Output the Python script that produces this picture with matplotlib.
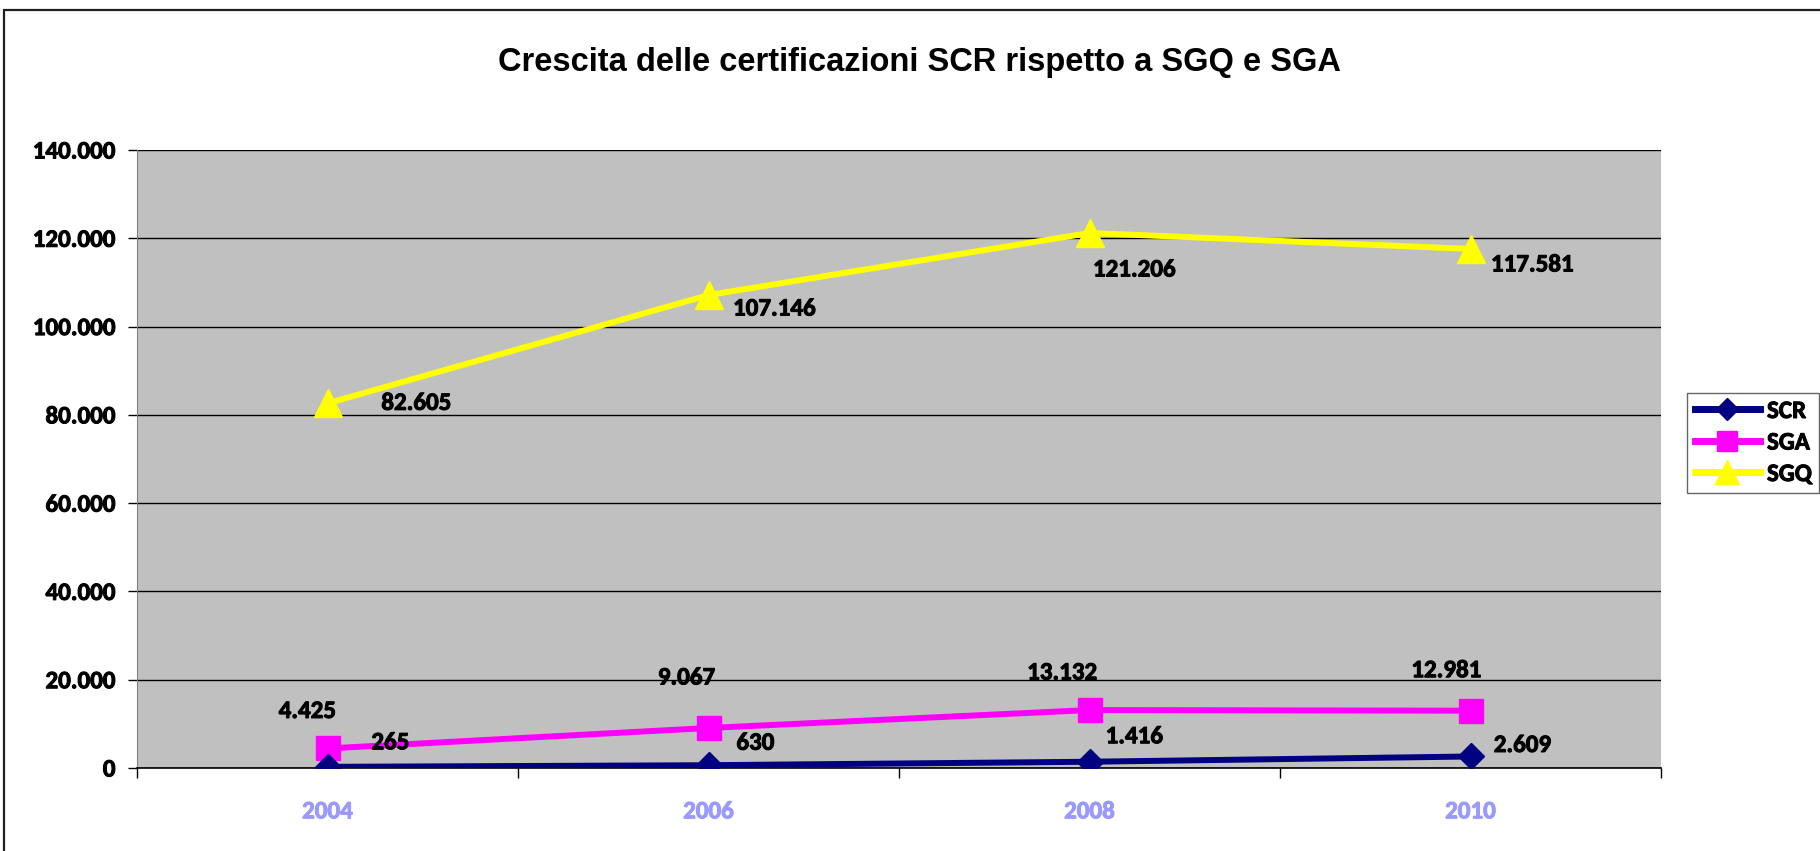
import matplotlib
matplotlib.use("Agg")
import matplotlib.pyplot as plt
import matplotlib.patheffects as pe
from matplotlib.patches import Rectangle

# data
years = ["2004", "2006", "2008", "2010"]
scr = [265, 630, 1416, 2609]
sga = [4425, 9067, 13132, 12981]
sgq = [82605, 107146, 121206, 117581]
yticks = [0, 20000, 40000, 60000, 80000, 100000, 120000, 140000]
ytick_labels = ["0", "20.000", "40.000", "60.000", "80.000", "100.000", "120.000", "140.000"]


def fmt(v):
    return f"{v:,}".replace(",", ".")


# label offsets in pixels (dx, dy), as placed in the original chart
scr_off = [(63, 24), (47, 22), (45, 25), (52, 11)]
sga_off = [(-20, 37), (-22, 50), (-27, 37), (-24, 40)]
sgq_off = [(89, 0), (66, -14), (45, -37), (62, -16)]

CAL = ["Carlito", "DejaVu Sans"]
HEAVY = [pe.withStroke(linewidth=0.7, foreground="black")]
HEAVY_X = [pe.withStroke(linewidth=0.7, foreground="#9999FF")]

W, H = 1820, 851
fig = plt.figure(figsize=(W / 100, H / 100), dpi=100)
fig.patch.set_facecolor("white")

# outer chart frame (top and left visible)
fig.add_artist(Rectangle((4 / W, -0.1), 1.2, 1 - 10 / H + 0.1, transform=fig.transFigure,
                         fill=False, ec="#202020", lw=1.6))

ax = fig.add_axes([137 / W, 1 - 768 / H, (1661 - 137) / W, (768 - 150) / H])
ax.set_facecolor("#C0C0C0")
x = list(range(len(years)))

ax.plot(x, scr, color="#000080", lw=4.3, marker="D", ms=13, label="SCR", zorder=5)
ax.plot(x, sga, color="#FF00FF", lw=4.3, marker="s", ms=17, label="SGA", zorder=4)
ax.plot(x, sgq, color="#FFFF00", lw=4.3, marker="^", ms=20, label="SGQ", zorder=3)

lab_font = dict(family=CAL, fontsize=18, fontweight="bold", color="black")
for vals, offs in ((scr, scr_off), (sga, sga_off), (sgq, sgq_off)):
    for xi, v, (dx, dy) in zip(x, vals, offs):
        ax.annotate(fmt(v), (xi, v), xytext=(dx, dy), textcoords="offset pixels",
                    ha="center", va="center", zorder=6, path_effects=HEAVY, **lab_font)

ax.set_xlim(-0.5, len(years) - 0.5)
ax.set_ylim(0, 140000)
ax.set_yticks(yticks)
ax.set_yticklabels(ytick_labels, fontsize=18, fontweight="bold", family=CAL)
for t in ax.get_yticklabels():
    t.set_path_effects(HEAVY)
ax.grid(True, axis="y", color="black", lw=1.0, zorder=1)
ax.set_axisbelow(True)

ax.set_xticks(x)
ax.set_xticklabels(years, fontsize=18, fontweight="bold", family=CAL, color="#9999FF")
for t in ax.get_xticklabels():
    t.set_path_effects(HEAVY_X)
ax.set_xticks([i - 0.5 for i in range(len(years) + 1)], minor=True)
ax.tick_params(axis="x", which="major", length=0, pad=24)
ax.tick_params(axis="x", which="minor", length=7, width=1.0, color="black", direction="out")
ax.tick_params(axis="y", length=6.5, width=1.0, color="black", direction="out", pad=9)

for s in ("top", "right"):
    ax.spines[s].set_visible(False)
ax.spines["left"].set_color("#808080")
ax.spines["bottom"].set_color("black")
ax.spines["bottom"].set_linewidth(1.2)

fig.text(919 / W, 1 - 63 / H, "Crescita delle certificazioni SCR rispetto a SGQ e SGA",
         ha="center", va="center", fontsize=23.5, fontweight="bold", family="Liberation Sans")

leg = fig.legend(loc="upper left", bbox_to_anchor=(1687 / W, 1 - 393 / H),
                 bbox_transform=fig.transFigure, frameon=True, fancybox=False,
                 prop=dict(family=CAL, weight="bold", size=18),
                 handlelength=2.6, handletextpad=0.3, labelspacing=0.4,
                 borderpad=0.3, borderaxespad=0, markerscale=0.85)
leg.get_frame().set_edgecolor("#404040")
leg.get_frame().set_linewidth(1.0)
for ln in leg.get_lines():
    ln.set_linewidth(5)
for t in leg.get_texts():
    t.set_path_effects(HEAVY)

fig.savefig("out.png", dpi=100)
